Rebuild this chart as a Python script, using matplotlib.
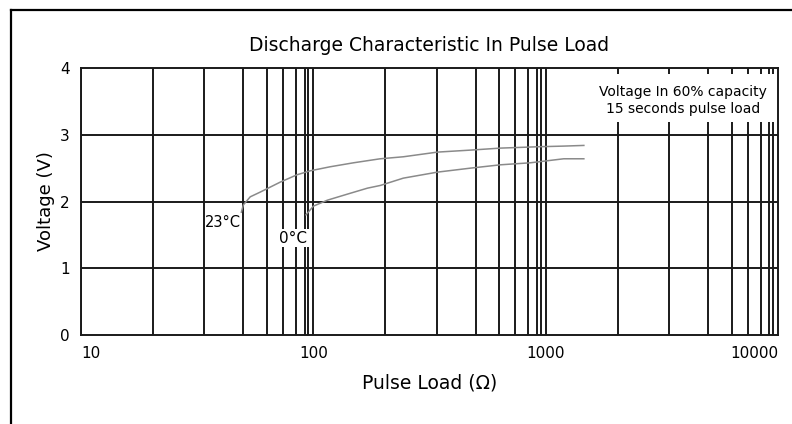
import matplotlib
matplotlib.use("Agg")
import matplotlib.pyplot as plt
from matplotlib.lines import Line2D
from matplotlib.patches import Rectangle

# =========================
# DATA
# =========================

load_23c = [49, 50, 53.5, 59, 72, 85, 97, 118, 149, 194, 244, 342, 475, 640, 924, 1196, 1460]
volt_23c = [1.84, 1.95, 2.07, 2.14, 2.29, 2.40, 2.46, 2.52, 2.58, 2.64, 2.67, 2.74, 2.77, 2.80, 2.82, 2.83, 2.84]

load_0c = [93, 100, 115, 140, 171, 194, 244, 342, 475, 640, 860, 1196, 1460]
volt_0c = [1.80, 1.93, 2.02, 2.11, 2.20, 2.24, 2.35, 2.44, 2.50, 2.55, 2.58, 2.64, 2.64]

x_ticks = [10, 100, 1000, 10000]
x_tick_labels = ["10", "100", "1000", "10000"]
y_ticks = [0, 1, 2, 3, 4]

# grid multipliers inside each decade (the source grid is not a clean log grid)
grid_mult = [2.04, 3.39, 5.0, 6.31, 7.41, 8.41, 9.18, 9.51]

# =========================
# FIGURE
# =========================

plt.rcParams['font.family'] = ['DejaVu Sans']

fig = plt.figure(figsize=(7.92, 4.24), dpi=100)
ax = fig.add_axes([81 / 792, 89 / 424, 697 / 792, 267 / 424])

ax.set_xscale('log')
ax.set_xlim(10, 10000)
ax.set_ylim(0, 4)

grid_color = '#1a1a1a'

# vertical grid
for decade in [10, 100, 1000]:
    ax.axvline(decade, color=grid_color, lw=1.4, zorder=1)
    for m in grid_mult:
        ax.axvline(decade * m, color=grid_color, lw=1.4, zorder=1)

# horizontal grid
for v in [1, 2, 3]:
    ax.axhline(v, color=grid_color, lw=1.4, zorder=1)

for s in ax.spines.values():
    s.set_color(grid_color)
    s.set_linewidth(1.4)

# =========================
# CURVES
# =========================

ax.plot(load_23c, volt_23c, color='#8a8a8a', lw=1.1, zorder=3)
ax.plot(load_0c, volt_0c, color='#8a8a8a', lw=1.1, zorder=3)

ax.text(49, 1.69, "23°C", ha='right', va='center', fontsize=10.5,
        zorder=4, bbox=dict(facecolor='white', edgecolor='none', pad=0.5))
ax.text(82, 1.45, "0°C", ha='center', va='center', fontsize=11,
        zorder=4, bbox=dict(facecolor='white', edgecolor='none', pad=1.0))

# =========================
# NOTE BOX
# =========================

ax.add_patch(Rectangle((0.723, 0.798), 0.274, 0.18, transform=ax.transAxes,
                       facecolor='white', edgecolor='none', zorder=2))
ax.text(0.864, 0.91, "Voltage In 60% capacity", transform=ax.transAxes,
        ha='center', va='center', fontsize=10, zorder=4)
ax.text(0.864, 0.848, "15 seconds pulse load", transform=ax.transAxes,
        ha='center', va='center', fontsize=10, zorder=4)

# =========================
# TICKS & LABELS
# =========================

ax.set_xticks(x_ticks)
ax.set_xticklabels(x_tick_labels)
ax.minorticks_off()
ax.set_yticks(y_ticks)
ax.tick_params(axis='both', length=0, labelsize=11)
ax.tick_params(axis='x', pad=8)
ax.tick_params(axis='y', pad=8)

tick_ha = ['left', 'center', 'center', 'right']
for lbl, ha in zip(ax.get_xticklabels(), tick_ha):
    lbl.set_ha(ha)

ax.set_title("Discharge Characteristic In Pulse Load", fontsize=13.5, pad=12)
ax.set_xlabel("Pulse Load (Ω)", fontsize=13.5, labelpad=9)
ax.set_ylabel("Voltage (V)", fontsize=13, labelpad=4)

# =========================
# OUTER FRAME
# =========================

fig.add_artist(Line2D([11 / 792, 1], [1 - 10 / 424, 1 - 10 / 424],
                      transform=fig.transFigure, color='black', lw=1.6))
fig.add_artist(Line2D([11 / 792, 11 / 792], [0, 1 - 10 / 424],
                      transform=fig.transFigure, color='black', lw=1.6))

fig.savefig("out.png", dpi=100, facecolor='white')
plt.close()
